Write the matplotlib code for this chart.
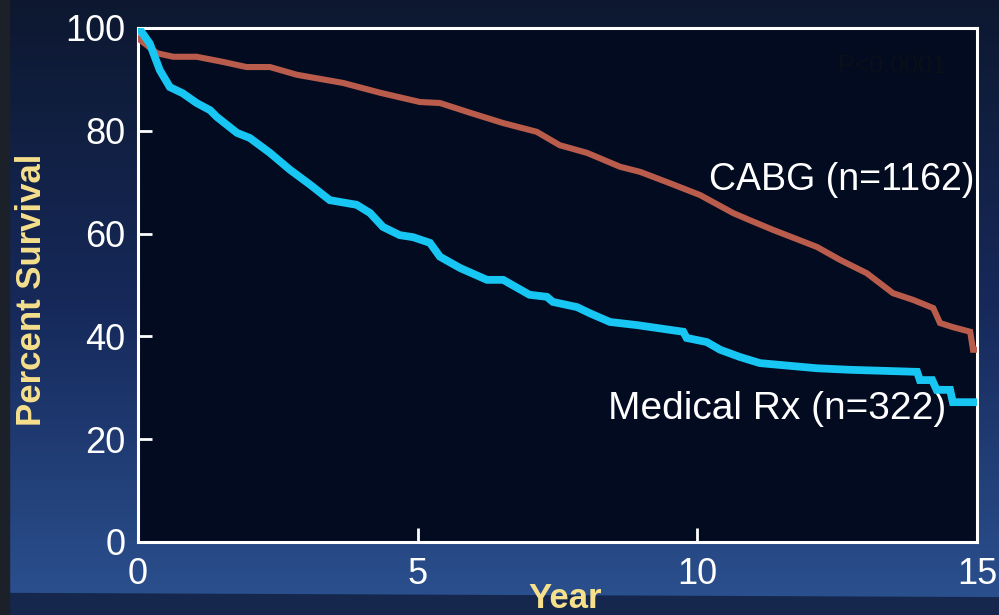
import matplotlib
matplotlib.use("Agg")
import matplotlib.pyplot as plt
import numpy as np
from matplotlib.colors import LinearSegmentedColormap

plt.rcParams["font.family"] = ["Liberation Sans", "DejaVu Sans"]

# survival curves (year, percent surviving)
cabg_year = [0, 0.34, 0.63, 1.05, 1.52, 1.94, 2.36, 2.84, 3.67, 4.33, 5.04, 5.4, 5.94,
             6.53, 7.13, 7.54, 8.03, 8.62, 8.98, 9.51, 10.05, 10.64, 10.94, 11.36, 12.14,
             12.55, 13.03, 13.5, 13.86, 14.22, 14.34, 14.57, 14.88, 14.93, 14.98]
cabg_pct = [98, 95.1, 94.4, 94.4, 93.4, 92.4, 92.4, 90.9, 89.3, 87.4, 85.6, 85.4, 83.5,
            81.5, 79.8, 77.2, 75.7, 73, 72, 69.8, 67.5, 64, 62.6, 60.7, 57.4,
            54.9, 52.3, 48.4, 47.1, 45.5, 42.6, 41.8, 40.9, 37.4, 37.4]

medical_year = [0, 0.04, 0.21, 0.39, 0.57, 0.80, 1.05, 1.29, 1.41, 1.77, 2.0, 2.36, 2.72,
                3.08, 3.43, 3.91, 4.15, 4.38, 4.68, 4.92, 5.22, 5.4, 5.76, 6.24, 6.53,
                7.0, 7.31, 7.42, 7.85, 8.08, 8.44, 8.92, 9.75, 9.81, 10.17, 10.41, 10.76,
                11.12, 11.53, 12.14, 12.73, 13.93, 13.98, 14.2, 14.28, 14.52, 14.57, 14.98]
medical_pct = [100, 99.6, 97, 91.8, 88.5, 87.3, 85.4, 84, 82.7, 79.6, 78.6, 75.7, 72.4,
               69.5, 66.5, 65.6, 64, 61.3, 59.7, 59.3, 58.2, 55.5, 53.3, 51, 51,
               48.1, 47.7, 46.7, 45.7, 44.5, 42.8, 42.2, 40.9, 39.7, 38.9, 37.4, 36,
               34.8, 34.4, 33.8, 33.5, 33.1, 31.5, 31.5, 29.6, 29.6, 27.2, 27.2]

x_ticks = [0, 5, 10, 15]
y_ticks = [0, 20, 40, 60, 80, 100]

CABG_COLOR = "#b95c4b"
MED_COLOR = "#18c6f4"
LABEL_YELLOW = "#f6e08c"
PLOT_BG = "#020b20"

fig = plt.figure(figsize=(9.99, 6.15), dpi=100)

# slide background: navy gradient, lighter toward the bottom
bg = fig.add_axes([0, 0, 1, 1], zorder=-10)
grad_cmap = LinearSegmentedColormap.from_list("bg", ["#0d1830", "#16295a", "#2c5291"])
grad = np.linspace(0, 1, 256).reshape(-1, 1)
bg.imshow(grad, aspect="auto", cmap=grad_cmap, extent=[0, 1, 0, 1], origin="upper")
bg.fill_between([0, 1], [0, 0], [0.035, 0.028], color="#15274d", zorder=2)
bg.fill_between([0, 0.009], [0, 0], [1, 1], color="#1b2029", zorder=3)
bg.set_xlim(0, 1)
bg.set_ylim(0, 1)
bg.axis("off")

ax = fig.add_axes([0.1381, 0.1187, 0.8398, 0.8358])
ax.set_facecolor(PLOT_BG)

ax.plot(cabg_year, cabg_pct, color=CABG_COLOR, lw=4.4, solid_joinstyle="miter", zorder=3)
ax.plot(medical_year, medical_pct, color=MED_COLOR, lw=5.6, solid_joinstyle="miter", zorder=4)

ax.set_xlim(0, 15)
ax.set_ylim(0, 100)
ax.set_xticks(x_ticks)
ax.set_yticks(y_ticks)
ax.tick_params(axis="both", direction="in", colors="white", labelsize=26,
               length=10, width=2)
ax.tick_params(axis="x", pad=11)
ax.tick_params(axis="y", pad=9)
for spine in ax.spines.values():
    spine.set_edgecolor("white")
    spine.set_linewidth(2.2)

ax.set_ylabel("Percent Survival", color=LABEL_YELLOW, fontsize=25, fontweight="bold")
ax.yaxis.set_label_coords(-0.107, 0.49)
ax.set_xlabel("Year", color=LABEL_YELLOW, fontsize=25, fontweight="bold")
ax.xaxis.set_label_coords(0.509, -0.077)

ax.text(14.95, 70.4, "CABG (n=1162)", color="white", fontsize=27,
        ha="right", va="center")
ax.text(14.45, 25.8, "Medical Rx (n=322)", color="white", fontsize=28,
        ha="right", va="center")
ax.text(14.45, 92.6, "P<0.0001", color="#0a0f18", fontsize=18,
        ha="right", va="center")

fig.savefig("out.png", dpi=100, facecolor=fig.get_facecolor())
